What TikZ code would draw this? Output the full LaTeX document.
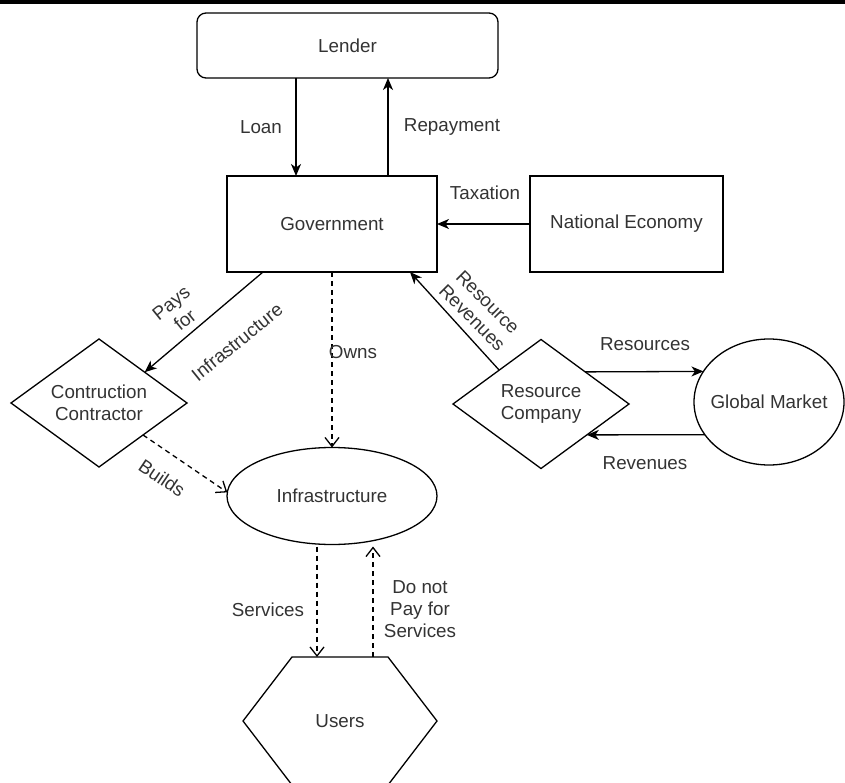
\documentclass[tikz,border=0pt]{standalone}
\usepackage{fontspec}
\setmainfont{Liberation Sans}
\usetikzlibrary{arrows.meta,shapes.geometric,calc}
\begin{document}
\begin{tikzpicture}[x=1pt,y=-1pt,
  every node/.style={font=\fontsize{18.8}{22}\selectfont, text=black!80},
  shp/.style={draw=black, line width=1.3pt, inner sep=0pt, outer sep=0pt},
  lbl/.style={align=center, inner sep=0pt},
  sarrow/.style={draw=black, line width=1.3pt, -{Stealth[length=12pt,width=10pt,inset=3.5pt]}},
  darrow/.style={draw=black, line width=1.3pt, dash pattern=on 5pt off 4pt, -{Straight Barb[length=9pt,width=14pt,line width=1.3pt]}}
]
\useasboundingbox (0,0) rectangle (845,783);
\fill[black] (0,0) rectangle (845,4);

% nodes
\node[shp, rounded corners=9pt, minimum width=301pt, minimum height=65pt] (lender) at (347.5,45.5) {Lender};
\node[shp, minimum width=210pt, minimum height=96pt] (gov) at (332,224) {Government};
\node[shp, minimum width=193pt, minimum height=96pt] (natl) at (626.5,224) {National Economy};
\node[shp, diamond, minimum width=176pt, minimum height=128pt, label={[lbl]center:{Contruction\\Contractor}}] (cc) at (99,403) {};
\node[shp, diamond, minimum width=176pt, minimum height=129pt, label={[lbl]center:{Resource\\Company}}] (rc) at (541,404) {};
\node[shp, ellipse, minimum width=150pt, minimum height=126pt, label={[lbl]center:{Global Market}}] (gm) at (769,402) {};
\node[shp, ellipse, minimum width=210pt, minimum height=97pt, label={[lbl]center:{Infrastructure}}] (infra) at (332,496) {};
\node[inner sep=0pt, outer sep=0pt, minimum width=96pt, minimum height=128pt] (users) at (340,721) {Users};
\draw[black, line width=1.3pt] (users.north west) -- (users.north east) -- ($(users.east)+(49pt,0pt)$) -- (users.south east) -- (users.south west) -- ($(users.west)+(-49pt,0pt)$) -- cycle;

% connectors
\draw[sarrow] ([xshift=-51.5pt]lender.south) -- ([xshift=-36pt]gov.north);
\draw[sarrow] ([xshift=56pt]gov.north) -- ([xshift=40.5pt]lender.south);
\draw[sarrow] (natl.west) -- (gov.east);
\draw[sarrow] ([xshift=-69pt]gov.south) -- (cc.34);
\draw[sarrow] (rc.141) -- ([xshift=78pt]gov.south);
\draw[sarrow] (rc.36) -- (gm.155.6);
\draw[sarrow] (gm.207.3) -- (rc.-34.3);
\draw[darrow] (gov.south) -- (infra.north);
\draw[darrow] (cc.-36) -- (infra.178);
\draw[darrow] ([xshift=-15pt,yshift=-2pt]infra.south) -- ([xshift=-23pt]users.north);
\draw[darrow] ([xshift=33pt]users.north) -- ([xshift=41pt,yshift=-2pt]infra.south);

% labels
\node[lbl] (lloan) at (261,127) {Loan};
\node[lbl] (lrep) at (452,127) {Repayment};
\node[lbl] (ltax) at (485,193) {Taxation};
\node[lbl, rotate=39] (lpays) at (178,311.5) {Pays\\for};
\node[lbl, rotate=39] (linfra) at (237,342) {Infrastructure};
\node[lbl, rotate=-45] (lresrev) at (480,310) {Resource\\Revenues};
\node[lbl] (lowns) at (353,352) {Owns};
\node[lbl] (lres) at (645,344) {Resources};
\node[lbl] (lrev) at (645,463) {Revenues};
\node[lbl, rotate=-34] (lbuilds) at (162,478) {Builds};
\node[lbl] (lserv) at (268,610) {Services};
\node[lbl] (lnopay) at (420,609.5) {Do not\\Pay for\\Services};
\end{tikzpicture}
\end{document}
